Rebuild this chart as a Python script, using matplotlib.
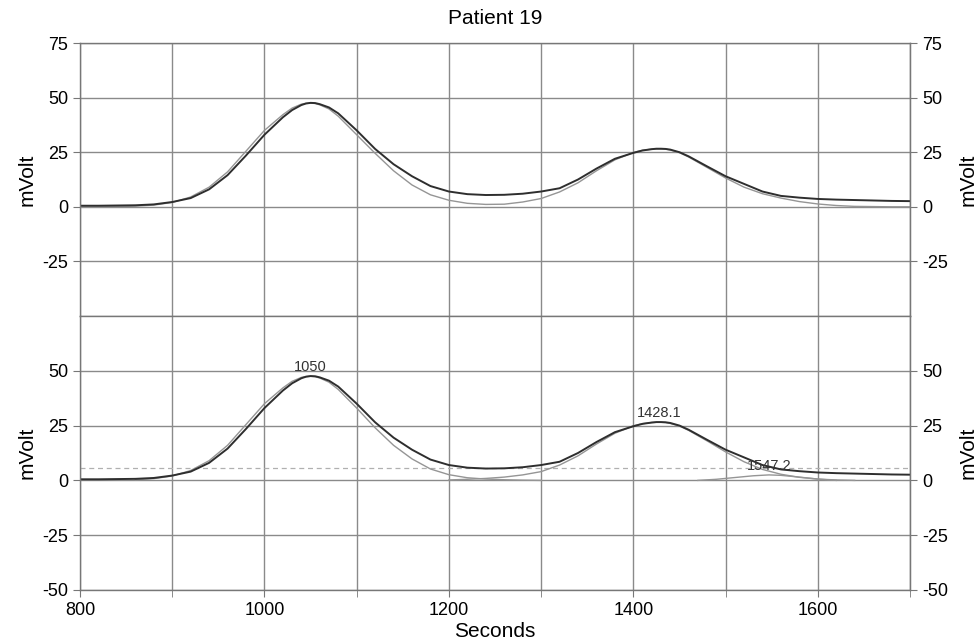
import matplotlib
matplotlib.use("Agg")
import matplotlib.pyplot as plt
from matplotlib.ticker import MultipleLocator

plt.rcParams['font.family'] = ['Liberation Sans', 'DejaVu Sans']
plt.rcParams['axes.unicode_minus'] = False

# measured signal (seconds, mVolt)
t = [800, 820, 840, 860, 880, 900, 920, 940, 960, 980, 1000, 1020, 1030, 1040, 1045,
     1050, 1055, 1060, 1070, 1080, 1100, 1120, 1140, 1160, 1180, 1200, 1220, 1240,
     1260, 1280, 1300, 1320, 1340, 1360, 1380, 1400, 1410, 1420, 1425, 1430, 1435,
     1440, 1450, 1460, 1480, 1500, 1520, 1540, 1560, 1580, 1600, 1620, 1640, 1660,
     1680, 1700]
signal = [0.5, 0.5, 0.6, 0.7, 1.1, 2.2, 4.0, 8.0, 14.5, 23.5, 33.0, 41.0, 44.3, 46.6, 47.3,
          47.6, 47.5, 47.0, 45.5, 42.8, 35.0, 26.5, 19.5, 14.0, 9.5, 7.0, 5.8, 5.4,
          5.5, 6.0, 7.0, 8.5, 12.5, 17.5, 22.0, 24.7, 25.8, 26.4, 26.6, 26.6, 26.5,
          26.2, 25.0, 23.1, 18.5, 14.0, 10.5, 7.0, 5.0, 4.2, 3.6, 3.3, 3.1, 2.9,
          2.7, 2.6]
# sum of fitted peaks
fit_sum = [0.0, 0.0, 0.1, 0.3, 0.8, 2.0, 4.5, 9.0, 16.0, 25.5, 35.0, 42.2, 45.2, 47.0, 47.4,
           47.5, 47.3, 46.7, 44.8, 41.5, 33.0, 24.5, 16.5, 10.0, 5.5, 3.0, 1.6, 1.1,
           1.2, 2.2, 3.8, 6.8, 11.0, 16.5, 21.5, 24.9, 25.9, 26.4, 26.5, 26.5, 26.4,
           26.0, 24.8, 22.8, 18.0, 13.2, 9.0, 6.0, 4.0, 2.4, 1.3, 0.6, 0.2, 0.1,
           0.0, 0.0]

# individual fitted peaks
p1_t = [860, 880, 900, 920, 940, 960, 980, 1000, 1020, 1030, 1040, 1045, 1050, 1055,
        1060, 1070, 1080, 1100, 1120, 1140, 1160, 1180, 1200, 1220, 1240, 1260, 1280, 1300]
p1_v = [0.3, 0.8, 2.0, 4.5, 9.0, 16.0, 25.5, 35.0, 42.2, 45.2, 47.0, 47.4, 47.5, 47.3,
        46.7, 44.8, 41.5, 33.0, 24.0, 16.0, 9.8, 5.2, 2.6, 1.2, 0.6, 0.3, 0.1, 0.0]
p2_t = [1200, 1220, 1240, 1260, 1280, 1300, 1320, 1340, 1360, 1380, 1400, 1410, 1420,
        1425, 1430, 1435, 1440, 1450, 1460, 1480, 1500, 1520, 1540, 1560, 1580, 1600,
        1620, 1640]
p2_v = [0.2, 0.5, 0.9, 1.5, 2.5, 4.0, 7.0, 11.2, 16.6, 21.5, 24.9, 25.9, 26.4,
        26.5, 26.5, 26.4, 26.0, 24.8, 22.8, 18.0, 13.0, 8.5, 5.0, 2.8, 1.4, 0.6,
        0.2, 0.0]
p3_t = [1470, 1490, 1510, 1530, 1547, 1560, 1580, 1600, 1620]
p3_v = [0.0, 0.5, 1.3, 2.1, 2.5, 2.3, 1.5, 0.6, 0.0]

peak_pos = [1050, 1428.1, 1547.2]
peak_height = [47.6, 26.6, 2.5]
peak_labels = ['1050', '1428.1', '1547.2']
threshold = 5.7

DARK = '#2e2e2e'
LIGHT = '#959595'
GRID = '#8a8a8a'

fig = plt.figure(figsize=(9.78, 6.44), dpi=100)
ax_top = fig.add_axes([0.0818, 0.5093, 0.8487, 0.4239])
ax_bot = fig.add_axes([0.0818, 0.0839, 0.8487, 0.4254], sharex=ax_top)


def style(ax, yticks):
    ax.set_xlim(800, 1700)
    ax.set_ylim(-50, 75)
    ax.xaxis.set_major_locator(MultipleLocator(200))
    ax.xaxis.set_minor_locator(MultipleLocator(100))
    ax.set_yticks(yticks)
    ax.grid(True, which='both', color=GRID, lw=1.0)
    ax.set_axisbelow(True)
    for s in ax.spines.values():
        s.set_color('#777777')
        s.set_linewidth(1.0)
    ax.tick_params(axis='both', which='both', color='#777777', direction='out',
                   labelsize=13, length=5)
    ax.set_ylabel('mVolt', fontsize=15, labelpad=4)
    sec = ax.secondary_yaxis('right')
    sec.set_yticks(yticks)
    sec.tick_params(color='#777777', labelsize=13, length=5)
    sec.spines['right'].set_color('#777777')
    sec.set_ylabel('mVolt', fontsize=15, labelpad=8)


style(ax_top, [-25, 0, 25, 50, 75])
style(ax_bot, [-50, -25, 0, 25, 50])
ax_top.tick_params(axis='x', which='both', bottom=False, labelbottom=False)

ax_top.plot(t, fit_sum, color=LIGHT, lw=1.0)
ax_top.plot(t, signal, color=DARK, lw=1.4)
ax_top.set_title('Patient 19', fontsize=15, pad=14)

ax_bot.axhline(threshold, color='#b0b0b0', lw=0.9, ls=(0, (4, 3)))
ax_bot.plot(p1_t, p1_v, color=LIGHT, lw=1.0)
ax_bot.plot(p2_t, p2_v, color=LIGHT, lw=1.0)
ax_bot.plot(p3_t, p3_v, color=LIGHT, lw=1.0)
ax_bot.plot(t, signal, color=DARK, lw=1.4)
for x, h, lab in zip(peak_pos, peak_height, peak_labels):
    ax_bot.text(x, h + 1.0, lab, ha='center', va='bottom', fontsize=10.5,
                color='#333333')
ax_bot.set_xlabel('Seconds', fontsize=15, labelpad=2)

fig.savefig('out.png', dpi=100)
